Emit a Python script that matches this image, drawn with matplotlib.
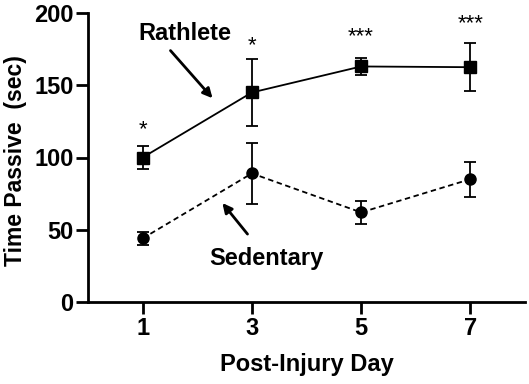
import matplotlib
matplotlib.use("Agg")
import matplotlib.pyplot as plt

days = [1, 3, 5, 7]
rathlete = [100, 145, 163, 162.5]
rathlete_err = [8, 23, 6, 16.5]
sedentary = [44, 89, 62, 85]
sedentary_err = [4.5, 21, 8, 12]
stars = ["*", "*", "***", "***"]
star_y = [112, 170, 176, 185]

plt.rcParams['font.family'] = ['Liberation Sans', 'DejaVu Sans']
plt.rcParams['font.weight'] = 'bold'

fig = plt.figure(figsize=(5.29, 3.84), dpi=100)
ax = fig.add_axes([88/529, 1-302/384, (525-88)/529, (302-13)/384])

ax.errorbar(days, rathlete, yerr=rathlete_err, color='black', marker='s', ms=8,
            lw=1.3, capsize=4, elinewidth=1.3, capthick=1.3)
ax.errorbar(days, sedentary, yerr=sedentary_err, color='black', marker='o', ms=8,
            lw=1.3, ls=(0, (3, 2)), capsize=4, elinewidth=1.3, capthick=1.3)

for d, s, y in zip(days, stars, star_y):
    ax.text(d, y, s, ha='center', va='bottom', fontsize=16, fontweight='normal')

ax.text(1.77, 186, "Rathlete", ha='center', va='center', fontsize=17, fontweight='bold')
ax.annotate("", xy=(2.28, 141), xytext=(1.51, 174),
            arrowprops=dict(arrowstyle='-|>', color='black', lw=2, mutation_scale=14,
                            shrinkA=0, shrinkB=0))
ax.text(3.27, 30, "Sedentary", ha='center', va='center', fontsize=17, fontweight='bold')
ax.annotate("", xy=(2.46, 68.5), xytext=(2.92, 47),
            arrowprops=dict(arrowstyle='-|>', color='black', lw=2, mutation_scale=14,
                            shrinkA=0, shrinkB=0))

ax.set_xlim(0, 8)
ax.set_ylim(0, 200)
ax.set_xticks(days)
ax.set_yticks([0, 50, 100, 150, 200])
ax.spines['top'].set_visible(False)
ax.spines['right'].set_visible(False)
ax.spines['left'].set_linewidth(2)
ax.spines['bottom'].set_linewidth(2)
ax.tick_params(width=2, length=8.5, labelsize=17, direction='out', pad=2)
for lab in ax.get_xticklabels() + ax.get_yticklabels():
    lab.set_fontweight('bold')
ax.set_xlabel("Post-Injury Day", fontsize=17, fontweight='bold', labelpad=10)
ax.set_ylabel("Time Passive  (sec)", fontsize=16.5, fontweight='bold')
ax.yaxis.set_label_coords(-0.14, 0.49)

fig.savefig("out.png", dpi=100)
